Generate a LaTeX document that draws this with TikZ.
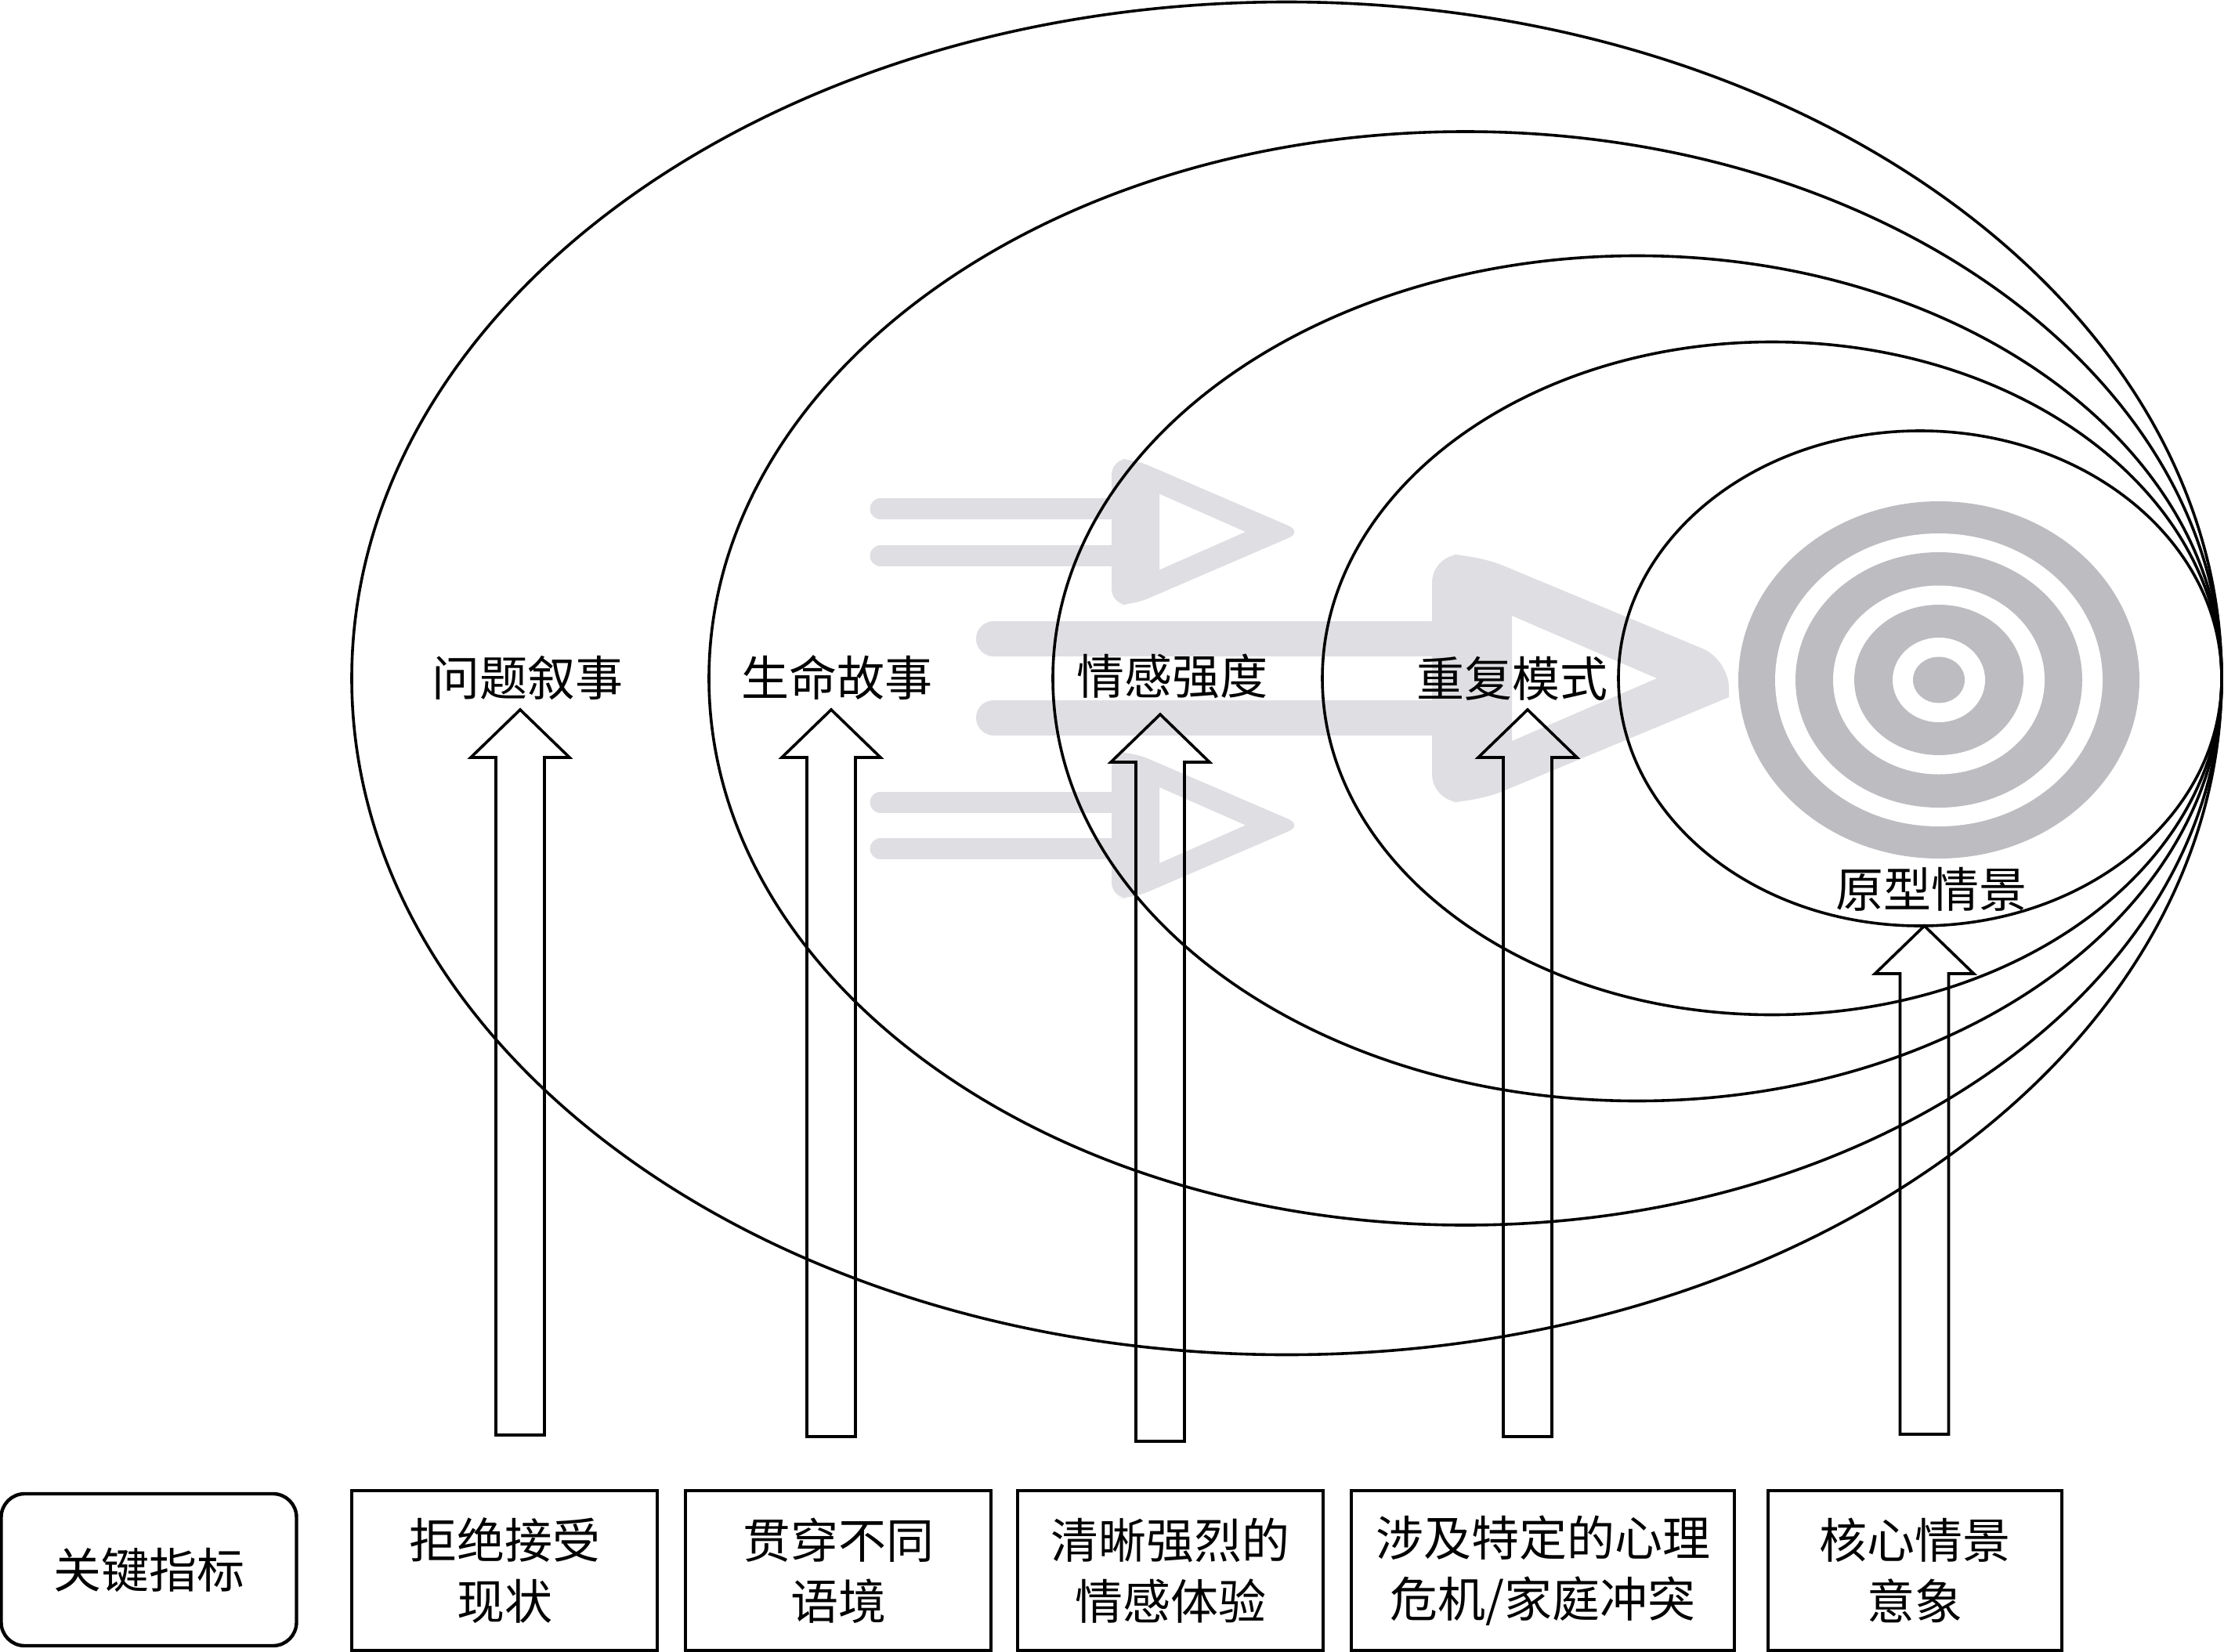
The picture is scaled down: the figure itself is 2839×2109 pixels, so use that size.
\documentclass[tikz,border=0pt]{standalone}
\usepackage{fontspec}
\setmainfont{Noto Sans CJK SC}
\usetikzlibrary{calc}
\definecolor{flowgray}{RGB}{223,222,226}
\definecolor{targetgray}{RGB}{189,188,192}
\begin{document}
\begin{tikzpicture}[x=0.25pt,y=-0.25pt,
  ringline/.style={draw=black,line width=0.9pt},
  hollow/.style={draw=black,line width=0.9pt,line join=miter},
  lbl/.style={inner sep=0pt,font=\fontsize{15.25pt}{19.5pt}\selectfont},
  keybox/.style={draw=black,line width=1.1pt,align=center,inner sep=0pt,
     font=\fontsize{15.25pt}{19.5pt}\selectfont},
  thinbar/.style={draw=flowgray,line width=6.75pt,line cap=round},
  thickbar/.style={draw=flowgray,line width=11.25pt,line cap=round}
]
\useasboundingbox (0,0) rectangle (2839,2109);
\fill[white] (0,0) rectangle (2839,2109);

% ---- light grey flow arrows (background) ----
% top small arrow
\draw[thinbar] (1124,649.5) -- (1445,649.5);
\draw[thinbar] (1124,709.5) -- (1445,709.5);
\fill[flowgray,even odd rule]
  [rounded corners=5pt] (1419,772) -- (1419,586) -- (1447,586) -- (1663,679) -- (1447,772) -- cycle
  [sharp corners] (1480,630.5) -- (1590,679) -- (1480,727.5) -- cycle;
% bottom small arrow
\draw[thinbar] (1124,1024) -- (1445,1024);
\draw[thinbar] (1124,1083.5) -- (1445,1083.5);
\fill[flowgray,even odd rule]
  [rounded corners=5pt] (1419,1146.5) -- (1419,960.5) -- (1447,960.5) -- (1663,1053.5) -- (1447,1146.5) -- cycle
  [sharp corners] (1480,1005) -- (1590,1053.5) -- (1480,1102) -- cycle;
% big arrow
\draw[thickbar] (1268.5,815.5) -- (1850,815.5);
\draw[thickbar] (1268.5,916) -- (1850,916);
\fill[flowgray,even odd rule]
  [rounded corners=9pt] (1828,1024) -- (1828,708) -- (1885,708) -- (2207,842)
  [sharp corners] -- (2207,890) [rounded corners=9pt] -- (1885,1024) -- cycle
  [sharp corners] (1930,786) -- (2115,866) -- (1930,946) -- cycle;

% ---- target ----
\fill[targetgray] (2475,868) ellipse [x radius=256*0.25pt, y radius=228*0.25pt];
\fill[white]      (2475,868) ellipse [x radius=209*0.25pt, y radius=187*0.25pt];
\fill[targetgray] (2475,868) ellipse [x radius=183*0.25pt, y radius=163*0.25pt];
\fill[white]      (2475,868) ellipse [x radius=135*0.25pt, y radius=120.5*0.25pt];
\fill[targetgray] (2475,868) ellipse [x radius=108*0.25pt, y radius=96*0.25pt];
\fill[white]      (2475,868) ellipse [x radius=59*0.25pt, y radius=54*0.25pt];
\fill[targetgray] (2475,868) ellipse [x radius=33*0.25pt, y radius=29.5*0.25pt];

% ---- nested ellipses ----
\draw[ringline] (1642.5,866) ellipse [x radius=1193.5*0.25pt, y radius=863.5*0.25pt];
\draw[ringline] (1870.5,866) ellipse [x radius=965.5*0.25pt, y radius=698*0.25pt];
\draw[ringline] (2090,866) ellipse [x radius=746*0.25pt, y radius=539.5*0.25pt];
\draw[ringline] (2262,866) ellipse [x radius=574*0.25pt, y radius=429.5*0.25pt];
\draw[ringline] (2451,866) ellipse [x radius=385*0.25pt, y radius=316*0.25pt];

% ---- layer labels ----
\node[lbl] (L1) at (673.5,865) {问题叙事};
\node[lbl] (L2) at (1068,865) {生命故事};
\node[lbl] (L3) at (1496,863) {情感强度};
\node[lbl] (L4) at (1930,866) {重复模式};
\node[lbl] (L5) at (2465,1135) {原型情景};

% ---- bottom boxes ----
\node[keybox,rounded corners=7.5pt,minimum width=94.25pt,minimum height=48.5pt] (K) at (190,2004) {关键指标};
\node[keybox,minimum width=97.5pt,minimum height=51pt] (B1) at (644,2005) {拒绝接受\\现状};
\node[keybox,minimum width=97.5pt,minimum height=51pt] (B2) at (1070,2005) {贯穿不同\\语境};
\node[keybox,minimum width=97.5pt,minimum height=51pt] (B3) at (1494,2005) {清晰强烈的\\情感体验};
\node[keybox,minimum width=122.25pt,minimum height=51pt] (B4) at (1969.5,2005) {涉及特定的心理\\危机/家庭冲突};
\node[keybox,minimum width=93.75pt,minimum height=51pt] (B5) at (2444.5,2005) {核心情景\\意象};

% ---- hollow up arrows (box -> label) ----
\coordinate (t1) at (664,906);   \coordinate (b1) at (664,1832);
\coordinate (t2) at (1061,906);  \coordinate (b2) at (1061,1834);
\coordinate (t3) at (1481,912);  \coordinate (b3) at (1481,1840);
\coordinate (t4) at (1950,906);  \coordinate (b4) at (1950,1834);
\coordinate (t5) at (2456.5,1182); \coordinate (b5) at (2456.5,1831);
\foreach \i in {1,...,5}{
  \draw[hollow] let \p1=(t\i), \p2=(b\i) in
    (\x1-7.75pt,\y2) -- (\x1-7.75pt,\y1-15.25pt) -- (\x1-15.75pt,\y1-15.25pt) --
    (\x1,\y1) -- (\x1+15.75pt,\y1-15.25pt) -- (\x1+7.75pt,\y1-15.25pt) --
    (\x1+7.75pt,\y2) -- cycle;
}
\end{tikzpicture}
\end{document}
